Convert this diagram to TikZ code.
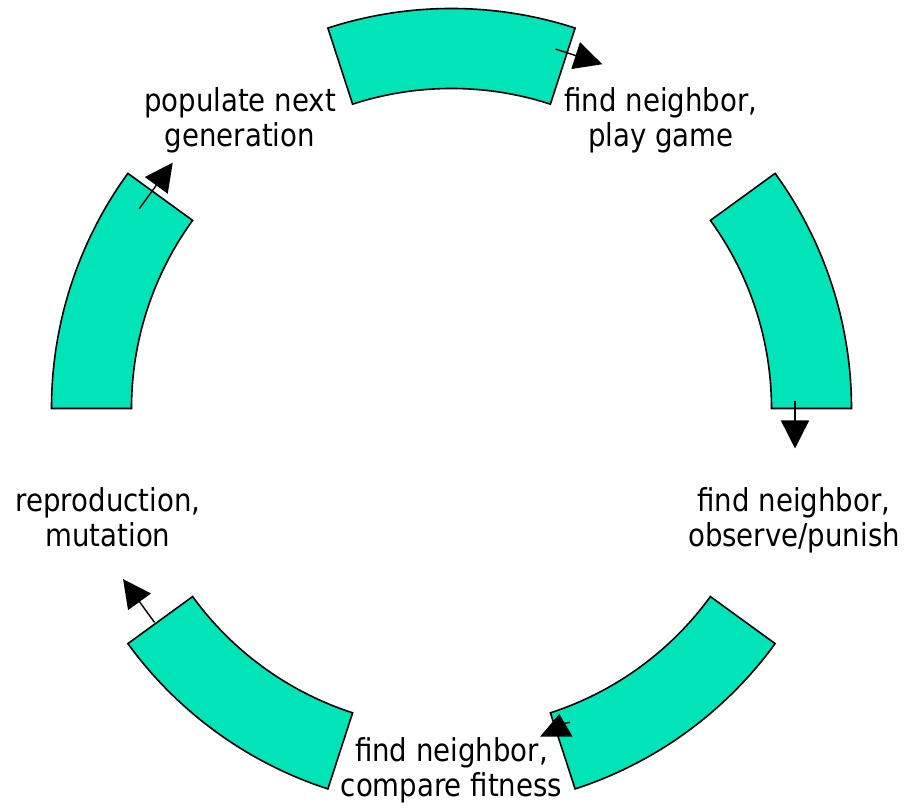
\documentclass[tikz,border=0pt]{standalone}
\usepackage{fontspec}
\setmainfont{DejaVu Sans}[FakeStretch=0.876]
\usetikzlibrary{arrows.meta}
\definecolor{ringgreen}{RGB}{0,228,184}

\begin{document}
\begin{tikzpicture}[
                x=1pt,y=1pt,
                seg/.style={fill=ringgreen,draw=black,line width=1.6pt},
                flow/.style={line width=1.4pt,-{Triangle[length=28pt,width=28pt]}},
                lbl/.style={align=center,anchor=base,inner sep=0pt,font=\fontsize{31.5}{35}\selectfont}
            ]
                \useasboundingbox (-451.5,-401.5) rectangle (455.5,408.5);

                % ring pieces
                \foreach \a in {72,0,-72,-144,144}
                    \draw[seg] (\a:320) arc (\a:\a+36:320) -- (\a+36:400) arc (\a+36:\a:400) -- cycle;

                % arrows at the clockwise ends
                \foreach \a/\r/\ys/\yt [count=\i] in {72/374/12/-37, 0/343.5/7/-40, -144/366/-1.5/-55, 144/370/22/-35}{
                    \begin{scope}[rotate=\a]
                        \coordinate (s\i) at (\r,\ys);
                        \coordinate (t\i) at (\r,\yt);
                    \end{scope}
                    \draw[flow] (s\i) -- (t\i);
                }
                \coordinate (q1) at (118.5,-313.8);
                \coordinate (q2) at (109.5,-315.5);
                \coordinate (qtip) at (107.8,-305.5);
                \draw[line width=1.4pt] (q1) -- (q2);
                \fill (qtip) -- (88.5,-328.2) -- (121.2,-328.2) -- cycle;

                \node[lbl] (popgen) at (-211.5,261.8) {populate next\\generation};
                \node[lbl] (play)   at (209.5,261.8)  {find neighbor,\\play game};
                \node[lbl] (punish) at (342.5,-138.2) {find neighbor,\\observe/punish};
                \node[lbl] (fit)    at (0,-388.2)     {find neighbor,\\compare fitness};
                \node[lbl] (repro)  at (-343.5,-138.2) {reproduction,\\mutation};
            \end{tikzpicture}
\end{document}
